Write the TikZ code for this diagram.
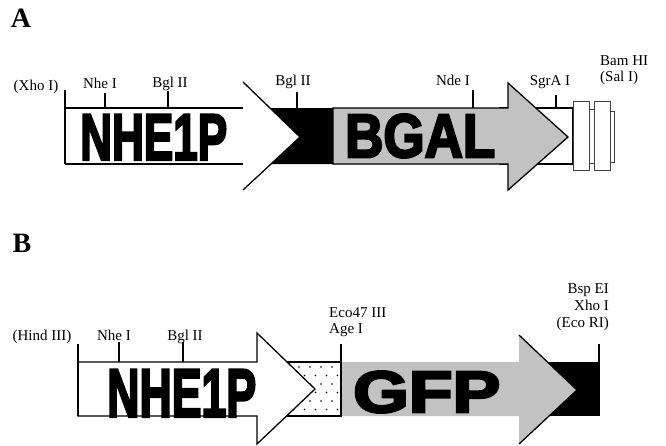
\documentclass[tikz,border=0pt]{standalone}
\usepackage{graphicx}
\usepackage{fontspec}
\setmainfont{Liberation Serif}
\newfontfamily\heavy[BoldFeatures={FakeBold=4}]{Liberation Sans}
\definecolor{fillgray}{gray}{0.76}
\tikzset{
  lab/.style={font=\fontsize{15}{15}\selectfont, inner sep=0pt, anchor=base},
  panel/.style={font=\fontsize{28}{28}\selectfont\bfseries, inner sep=0pt, anchor=base},
  outl/.style={line width=1.3pt, draw=black},
  tickline/.style={line width=1.3pt},
  boxline/.style={line width=1pt, draw=black!75, fill=white},
  bigtext/.style={inner sep=0pt, anchor=south west},
}
\newcommand{\bigword}[3]{\resizebox{#1}{#2}{\heavy\bfseries #3}}
\begin{document}
\begin{tikzpicture}[x=1pt,y=-1pt]
\useasboundingbox (0,0) rectangle (666,445);

% ---------------- Panel A ----------------
\node[panel] (pA) at (21,27) {A};

% NHE1P open arrow
\draw[outl] (65,90) -- (65,164);
\draw[outl] (65,108) -- (243,108);
\draw[outl] (65,164) -- (243,164);
\fill[black] (270,108) -- (333,108) -- (333,164) -- (271,164) -- (300,137) -- cycle;
\draw[outl] (243,82) -- (300,137) -- (243,190);
\draw[tickline] (105,93) -- (105,108);
\draw[tickline] (168,91) -- (168,108);
\draw[tickline] (297,92) -- (297,108);

% trailing segment + BGAL arrow
\draw[outl, fill=white] (500,108) rectangle (573,164);
\draw[outl, fill=fillgray] (333,108) -- (508,108) -- (508,83) -- (568,137) -- (508,190) -- (508,164) -- (333,164) -- cycle;
\draw[tickline] (473,90) -- (473,108);
\draw[tickline] (556,95) -- (556,108);

% end boxes
\draw[boxline] (589,109) rectangle (594,163);
\draw[boxline] (610,111) rectangle (614,162);
\draw[boxline] (573,101) rectangle (589,170);
\draw[boxline] (594,101) rectangle (610,170);

\node[bigtext] (nheA) at (80,160) {\bigword{147pt}{45pt}{NHE1P}};
\node[bigtext] (bgal) at (345,158) {\bigword{150pt}{43pt}{BGAL}};

\node[lab] (xho) at (36,90) {(Xho I)};
\node[lab] (nheIA) at (100,88) {Nhe I};
\node[lab] (bglA1) at (170,87) {Bgl II};
\node[lab] (bglA2) at (293,85) {Bgl II};
\node[lab] (nde) at (453,85) {Nde I};
\node[lab] (sgra) at (550,85) {SgrA I};
\node[lab, anchor=base west] (bam) at (600,65) {Bam HI};
\node[lab, anchor=base west] (sal) at (600,81) {(Sal I)};

% ---------------- Panel B ----------------
\node[panel] (pB) at (22,252) {B};

% dotted segment
\draw[outl, fill=white] (260,362) rectangle (341,416);
\begin{scope}
  \clip (260,362) rectangle (341,416);
  \foreach \r in {0,...,5} {
    \foreach \c in {0,...,8} {
      \fill ({266+11*\c+5.5*mod(\r,2)}, {367+8.5*\r}) circle (0.95);
    }
  }
\end{scope}

% NHE1P arrow
\draw[outl, fill=white] (78,362) -- (257,362) -- (257,333) -- (315,389) -- (257,444) -- (257,416) -- (78,416) -- cycle;
\draw[outl] (78,344) -- (78,416);
\draw[tickline] (119,342) -- (119,362);
\draw[tickline] (183,342) -- (183,362);

% black tail + GFP arrow
\fill[black] (530,362) rectangle (599,416);
\fill[fillgray] (341,362) -- (519,362) -- (519,335) -- (577,390) -- (519,444) -- (519,416) -- (341,416) -- cycle;
\draw[outl] (519,335) -- (577,390) -- (519,444);
\draw[outl] (341,344) -- (341,416);
\draw[outl] (599,344) -- (599,416);

\node[bigtext] (nheB) at (107,417) {\bigword{149pt}{47pt}{NHE1P}};
\node[bigtext] (gfp) at (353,413) {\bigword{147pt}{41pt}{GFP}};

\node[lab] (hind) at (42,340) {(Hind III)};
\node[lab] (nheIB) at (114,340) {Nhe I};
\node[lab] (bglB) at (185,340) {Bgl II};
\node[lab, anchor=base west] (eco47) at (329,317) {Eco47 III};
\node[lab, anchor=base west] (age) at (329,333) {Age I};
\node[lab, anchor=base east] (bsp) at (609,293) {Bsp EI};
\node[lab, anchor=base east] (xhoB) at (609,310) {Xho I};
\node[lab, anchor=base east] (ecori) at (609,327) {(Eco RI)};
\end{tikzpicture}
\end{document}
